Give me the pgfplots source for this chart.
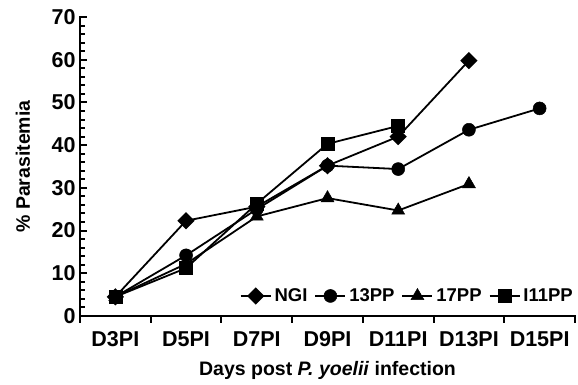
\documentclass[border=0pt]{standalone}
\usepackage{pgfplots}
\pgfplotsset{compat=1.18}
\usepackage{fontspec}
\setmainfont{Liberation Sans}
\begin{document}
\begin{tikzpicture}
\begin{axis}[
  name=ax,
  scale only axis, width=495pt, height=299pt,
  xmin=0, xmax=7, ymin=0, ymax=70,
  axis lines=left,
  axis line style={-, line width=2.6pt, line cap=rect},
  xtick={0,1,...,7},
  xticklabels={D3PI,D5PI,D7PI,D9PI,D11PI,D13PI,D15PI},
  x tick label as interval,
  ytick={0,10,...,70},
  minor y tick num=4,
  xtick align=outside, ytick align=inside,
  major tick length=7pt, minor tick length=5pt,
  every tick/.style={black, line width=2pt},
  tick label style={font=\fontsize{21.5}{24}\selectfont\bfseries},
  xticklabel style={anchor=north, text height=15pt, text depth=0pt, yshift=-5pt},
  yticklabel style={xshift=-1pt},
  /pgf/number format/assume math mode=true,
  xlabel={Days post \textit{P. yoelii} infection},
  ylabel={\% Parasitemia},
  every axis x label/.style={at={(axis description cs:0.5,0)}, anchor=center, yshift=-54pt, font=\fontsize{19.5}{23}\selectfont\bfseries},
  every axis y label/.style={at={([xshift=-57pt]axis description cs:0,0.5)}, rotate=90, anchor=center, font=\fontsize{19.5}{23}\selectfont\bfseries},
  legend columns=4,
  legend style={at={(1,0.067)}, anchor=east, draw=none, fill=none,
    font=\fontsize{18.5}{21}\selectfont\bfseries, inner sep=0pt,
    /tikz/every even column/.append style={column sep=5pt},
    /tikz/every odd column/.append style={column sep=1pt}},
  legend image code/.code={\draw[mark repeat=2,mark phase=2] plot coordinates {(0pt,0pt)(15pt,0pt)(30pt,0pt)};},
  every axis plot/.append style={black, line width=1.8pt, mark options={solid, fill=black, line width=0.5pt}},
  clip=false,
]
\addplot[mark=square*, mark options={rotate=45}, mark size=5.2pt] coordinates {(0.5,4.5)(1.5,22.3)(2.5,25.6)(3.5,35.2)(4.5,42)(5.5,59.8)};
\addlegendentry{NGI}
\addplot[mark=*, mark size=6.5pt] coordinates {(0.5,4.5)(1.5,14.2)(2.5,25)(3.5,35.2)(4.5,34.4)(5.5,43.6)(6.5,48.6)};
\addlegendentry{13PP}
\addplot[mark=triangle*, mark size=7.5pt] coordinates {(0.5,4.5)(1.5,12.2)(2.5,23.3)(3.5,27.6)(4.5,24.7)(5.5,30.9)};
\addlegendentry{17PP}
\addplot[mark=square*, mark size=6.5pt] coordinates {(0.5,4.5)(1.5,11.2)(2.5,26.3)(3.5,40.3)(4.5,44.5)};
\addlegendentry{I11PP}
\end{axis}
\path (ax.south west) ++(-80pt,-69pt) rectangle ++(578pt,385pt);
\end{tikzpicture}
\end{document}
